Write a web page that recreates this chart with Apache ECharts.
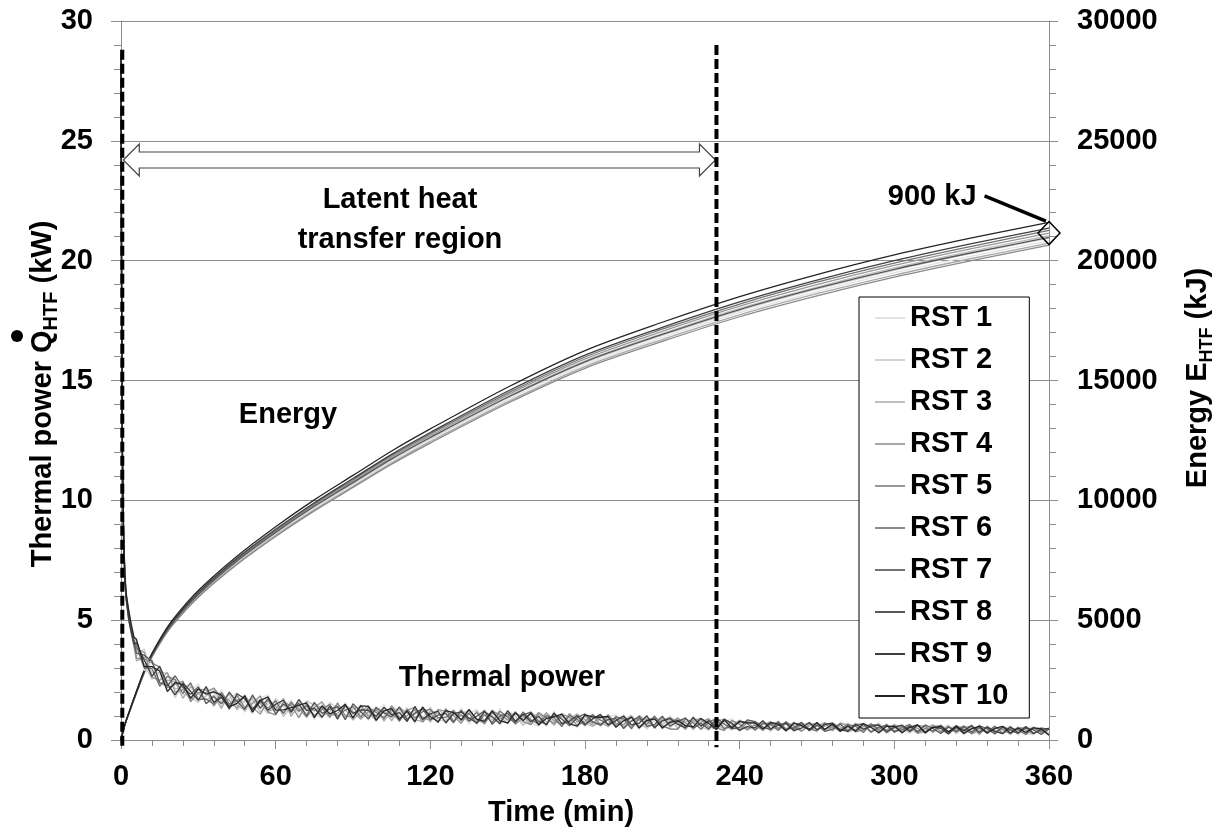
<!DOCTYPE html>
<html>
<head>
<meta charset="utf-8">
<script src="https://cdn.jsdelivr.net/npm/echarts@6.0.0/dist/echarts.min.js"></script>
<style>
  html, body { margin: 0; padding: 0; background: #fff; }
  #chart { width: 1220px; height: 834px; }
</style>
</head>
<body>
<div id="chart"></div>
<script>
// ---- data ----
const runNames = ['RST 1', 'RST 2', 'RST 3', 'RST 4', 'RST 5', 'RST 6', 'RST 7', 'RST 8', 'RST 9', 'RST 10'];
const runColors = ['#e2e2e2', '#d2d2d2', '#bebebe', '#a8a8a8', '#989898', '#8a8a8a', '#727272', '#585858', '#3e3e3e', '#242424'];

// time (min) of the energy samples
const energyTime = [0, 1, 2, 3, 5, 10, 15, 20, 30, 45, 60, 75, 90, 105, 120, 150, 180, 210, 240, 270, 300, 330, 360];

// energy E_HTF (kJ) per run
const energyRst1 = [0, 440, 790, 1090, 1680, 3060, 4050, 4830, 6010, 7390, 8570, 9650, 10640, 11620, 12510, 14180, 15660, 16790, 17830, 18710, 19500, 20190, 20830];
const energyRst2 = [0, 445, 795, 1090, 1690, 3070, 4060, 4850, 6040, 7430, 8610, 9700, 10690, 11680, 12570, 14260, 15740, 16880, 17920, 18810, 19600, 20300, 20940];
const energyRst3 = [0, 450, 800, 1100, 1700, 3090, 4080, 4880, 6070, 7460, 8660, 9750, 10750, 11740, 12640, 14330, 15820, 16960, 18010, 18900, 19700, 20400, 21040];
const energyRst4 = [0, 440, 785, 1080, 1670, 3040, 4020, 4800, 5980, 7350, 8530, 9600, 10580, 11560, 12450, 14110, 15580, 16710, 17740, 18620, 19400, 20090, 20730];
const energyRst5 = [0, 450, 800, 1100, 1700, 3100, 4100, 4900, 6100, 7500, 8700, 9800, 10800, 11800, 12700, 14400, 15900, 17050, 18100, 19000, 19800, 20500, 21150];
const energyRst6 = [0, 445, 790, 1080, 1670, 3040, 4010, 4790, 5960, 7320, 8490, 9560, 10540, 11510, 12390, 14050, 15510, 16630, 17660, 18530, 19310, 20000, 20650];
const energyRst7 = [0, 455, 805, 1105, 1710, 3120, 4120, 4920, 6130, 7540, 8740, 9850, 10860, 11860, 12770, 14470, 15980, 17140, 18190, 19100, 19900, 20600, 21260];
const energyRst8 = [0, 450, 800, 1095, 1695, 3090, 4090, 4880, 6070, 7470, 8660, 9750, 10740, 11730, 12620, 14300, 15780, 16920, 17960, 18850, 19640, 20330, 20970];
const energyRst9 = [0, 455, 810, 1110, 1720, 3130, 4140, 4950, 6160, 7580, 8790, 9900, 10910, 11920, 12830, 14550, 16060, 17220, 18280, 19190, 20000, 20710, 21360];
const energyRst10 = [0, 460, 820, 1125, 1740, 3170, 4190, 5010, 6240, 7670, 8900, 10020, 11040, 12060, 12980, 14720, 16250, 17430, 18500, 19420, 20240, 20950, 21600];

// time (min) of the thermal power samples
const powerTime = [0, 0.25, 0.5, 1, 1.5, 2, 3, 4, 5,
  6, 9, 12, 15, 18, 21, 24, 27, 30, 33,
  36, 39, 42, 45, 48, 51, 54, 57, 60, 63,
  66, 69, 72, 75, 78, 81, 84, 87, 90, 93,
  96, 99, 102, 105, 108, 111, 114, 117, 120, 123,
  126, 129, 132, 135, 138, 141, 144, 147, 150, 153,
  156, 159, 162, 165, 168, 171, 174, 177, 180, 183,
  186, 189, 192, 195, 198, 201, 204, 207, 210, 213,
  216, 219, 222, 225, 228, 231, 234, 237, 240, 243,
  246, 249, 252, 255, 258, 261, 264, 267, 270, 273,
  276, 279, 282, 285, 288, 291, 294, 297, 300, 303,
  306, 309, 312, 315, 318, 321, 324, 327, 330, 333,
  336, 339, 342, 345, 348, 351, 354, 357, 360];

// thermal power Q_HTF (kW) per run
const powerRst1 = [27.5, 17.6, 11.8, 8.4, 6.9, 5.9, 5.3, 4.5, 4.2,
  4.00, 2.90, 3.10, 2.70, 2.08, 2.60, 1.86, 2.05, 2.36, 1.55,
  1.63, 2.11, 1.26, 1.77, 1.56, 1.08, 1.74, 1.90, 1.17, 1.44,
  1.67, 1.05, 1.33, 0.85, 1.51, 1.37, 0.89, 1.57, 1.05, 1.34,
  0.82, 1.21, 1.49, 0.88, 1.02, 1.37, 0.68, 1.26, 1.05, 0.84,
  1.27, 0.86, 1.33, 0.66, 1.03, 1.14, 0.69, 1.32, 0.75, 0.94,
  0.69, 1.18, 0.91, 0.58, 1.21, 0.74, 1.07, 0.50, 0.93, 1.00,
  0.55, 0.94, 1.07, 0.56, 0.83, 0.44, 0.97, 0.76, 0.55, 1.02,
  0.57, 0.92, 0.39, 0.82, 0.85, 0.40, 0.71, 0.90, 0.41, 0.64,
  0.79, 0.42, 0.67, 0.80, 0.36, 0.61, 0.42, 0.75, 0.45, 0.68,
  0.35, 0.63, 0.70, 0.39, 0.53, 0.30, 0.72, 0.41, 0.60, 0.26,
  0.63, 0.37, 0.66, 0.28, 0.53, 0.63, 0.24, 0.50, 0.29, 0.65,
  0.26, 0.56, 0.35, 0.59, 0.20, 0.48, 0.55, 0.25, 0.42];
const powerRst2 = [28.2, 18.3, 12.2, 8.6, 6.7, 6.1, 5.1, 4.7, 4.0,
  3.50, 3.80, 2.80, 2.96, 2.42, 1.76, 2.34, 1.79, 1.56, 2.19,
  1.97, 1.39, 1.74, 1.97, 1.16, 1.64, 1.40, 1.10, 1.73, 1.42,
  1.07, 1.61, 1.35, 1.09, 0.91, 1.57, 1.31, 0.97, 1.43, 1.02,
  1.32, 0.87, 1.01, 1.40, 1.22, 0.77, 1.24, 0.90, 1.37, 0.80,
  0.83, 1.28, 0.73, 1.08, 1.27, 0.74, 1.03, 0.64, 1.15, 0.82,
  1.13, 0.72, 0.59, 1.06, 0.77, 1.12, 0.63, 0.98, 0.57, 0.92,
  0.99, 0.54, 0.81, 1.04, 0.59, 0.94, 0.45, 0.84, 0.95, 0.50,
  0.85, 0.48, 0.91, 0.54, 0.41, 0.84, 0.55, 0.42, 0.85, 0.48,
  0.47, 0.78, 0.41, 0.52, 0.78, 0.41, 0.72, 0.37, 0.65, 0.42,
  0.65, 0.33, 0.56, 0.69, 0.35, 0.64, 0.28, 0.59, 0.38, 0.64,
  0.33, 0.65, 0.26, 0.56, 0.37, 0.27, 0.62, 0.32, 0.59, 0.27,
  0.56, 0.28, 0.53, 0.23, 0.50, 0.28, 0.23, 0.53, 0.28];
const powerRst3 = [27.8, 17.9, 12.0, 8.7, 7.0, 6.2, 5.4, 4.8, 4.3,
  4.14, 3.14, 2.54, 2.84, 2.78, 2.12, 2.22, 2.31, 1.62, 1.83,
  2.09, 1.59, 1.90, 1.25, 1.64, 1.72, 1.16, 1.50, 1.57, 0.98,
  1.39, 1.17, 1.63, 1.45, 0.99, 1.17, 1.51, 0.89, 1.31, 1.38,
  1.04, 1.39, 0.77, 1.20, 1.30, 0.89, 1.08, 1.34, 0.73, 1.24,
  1.07, 0.70, 1.13, 1.20, 0.75, 1.26, 0.85, 0.76, 1.19, 1.02,
  0.61, 0.96, 1.11, 0.74, 1.05, 0.60, 0.87, 1.10, 0.69, 0.56,
  0.91, 1.02, 0.57, 0.84, 1.03, 0.62, 0.53, 0.96, 0.67, 0.86,
  0.49, 0.76, 0.87, 0.42, 0.77, 0.68, 0.43, 0.78, 0.69, 0.40,
  0.67, 0.74, 0.37, 0.68, 0.48, 0.75, 0.38, 0.57, 0.71, 0.38,
  0.59, 0.39, 0.46, 0.65, 0.69, 0.36, 0.56, 0.31, 0.66, 0.50,
  0.29, 0.57, 0.50, 0.64, 0.29, 0.51, 0.56, 0.24, 0.45, 0.53,
  0.44, 0.24, 0.57, 0.45, 0.26, 0.54, 0.41, 0.27, 0.50];
const powerRst4 = [28.5, 18.0, 12.4, 8.3, 6.6, 5.8, 5.0, 4.4, 3.9,
  3.30, 3.46, 3.34, 2.32, 2.50, 2.44, 1.74, 2.23, 1.94, 1.67,
  1.85, 1.31, 2.02, 1.45, 1.24, 1.80, 1.52, 1.20, 1.29, 1.74,
  0.99, 1.45, 1.07, 1.53, 1.31, 0.93, 1.43, 1.29, 0.83, 1.18,
  1.44, 0.91, 1.25, 0.80, 1.34, 1.13, 0.84, 0.78, 1.21, 1.12,
  0.75, 1.14, 1.01, 0.76, 1.19, 0.82, 1.25, 1.00, 0.67, 1.10,
  1.01, 0.64, 1.07, 0.94, 0.61, 1.00, 0.71, 1.06, 0.85, 0.60,
  0.71, 0.58, 1.01, 0.52, 0.95, 0.82, 0.89, 0.48, 0.91, 0.66,
  0.93, 0.56, 0.75, 0.86, 0.49, 0.80, 0.87, 0.50, 0.45, 0.80,
  0.43, 0.64, 0.77, 0.42, 0.68, 0.37, 0.62, 0.71, 0.41, 0.58,
  0.69, 0.55, 0.34, 0.45, 0.63, 0.54, 0.32, 0.67, 0.34, 0.56,
  0.51, 0.27, 0.36, 0.58, 0.61, 0.31, 0.46, 0.60, 0.25, 0.37,
  0.52, 0.42, 0.25, 0.51, 0.44, 0.22, 0.47, 0.43, 0.24];
const powerRst5 = [28.0, 18.5, 11.6, 8.2, 6.8, 6.0, 5.2, 4.6, 4.1,
  3.80, 3.66, 2.62, 2.48, 2.82, 2.00, 2.10, 1.67, 2.10, 2.11,
  1.41, 1.87, 1.66, 1.33, 1.88, 1.36, 1.08, 1.64, 1.41, 1.14,
  1.51, 1.33, 0.95, 1.37, 1.59, 1.01, 1.11, 1.41, 1.19, 0.86,
  1.20, 0.79, 1.33, 1.12, 0.82, 1.25, 1.36, 0.94, 0.81, 1.28,
  1.19, 1.02, 0.69, 1.24, 0.83, 0.70, 1.13, 0.88, 1.03, 0.66,
  0.93, 1.08, 0.71, 1.14, 0.81, 0.64, 1.11, 0.74, 1.01, 0.68,
  1.03, 0.82, 0.61, 0.96, 0.51, 1.02, 0.77, 0.56, 0.83, 0.94,
  0.73, 0.44, 0.83, 0.90, 0.57, 0.44, 0.83, 0.66, 0.37, 0.76,
  0.73, 0.48, 0.61, 0.74, 0.40, 0.67, 0.70, 0.41, 0.59, 0.72,
  0.39, 0.71, 0.60, 0.33, 0.57, 0.66, 0.38, 0.43, 0.62, 0.34,
  0.57, 0.49, 0.28, 0.62, 0.35, 0.59, 0.30, 0.54, 0.57, 0.23,
  0.58, 0.32, 0.49, 0.27, 0.54, 0.42, 0.25, 0.51, 0.44];
const powerRst6 = [27.2, 17.4, 12.6, 8.8, 6.9, 6.1, 5.1, 4.5, 4.0,
  3.42, 3.38, 3.22, 3.04, 2.18, 2.32, 2.46, 1.59, 1.98, 1.99,
  2.17, 1.75, 1.42, 1.85, 1.36, 1.52, 1.84, 1.16, 1.05, 1.58,
  1.43, 0.93, 1.51, 1.21, 1.39, 0.97, 1.55, 1.01, 0.95, 1.46,
  0.96, 1.27, 0.85, 1.44, 0.94, 1.01, 1.28, 0.74, 1.13, 0.72,
  1.31, 0.78, 1.05, 0.88, 1.15, 0.66, 1.17, 1.08, 0.83, 1.18,
  0.77, 0.64, 1.15, 0.94, 0.69, 1.08, 0.95, 0.62, 0.77, 1.08,
  0.59, 1.06, 0.69, 0.64, 0.99, 0.54, 0.85, 0.92, 0.47, 0.78,
  0.89, 0.72, 0.47, 0.74, 0.89, 0.52, 0.39, 0.82, 0.65, 0.44,
  0.63, 0.40, 0.71, 0.48, 0.74, 0.59, 0.36, 0.65, 0.69, 0.46,
  0.55, 0.45, 0.68, 0.35, 0.41, 0.62, 0.66, 0.29, 0.50, 0.60,
  0.41, 0.61, 0.56, 0.32, 0.63, 0.37, 0.50, 0.26, 0.51, 0.47,
  0.30, 0.52, 0.43, 0.25, 0.48, 0.52, 0.29, 0.41, 0.22];
const powerRst7 = [28.4, 18.8, 12.1, 8.5, 6.7, 5.9, 5.3, 4.7, 4.2,
  3.90, 3.02, 2.98, 2.24, 2.66, 2.52, 1.94, 2.39, 1.70, 1.71,
  1.49, 1.99, 1.50, 1.65, 1.76, 1.20, 1.60, 1.32, 1.65, 1.10,
  1.59, 1.21, 1.43, 1.01, 1.27, 1.49, 0.99, 1.25, 1.39, 0.94,
  1.36, 1.15, 0.93, 1.28, 0.78, 1.29, 0.92, 1.18, 1.29, 0.92,
  0.95, 1.22, 0.81, 1.12, 0.67, 1.06, 0.73, 1.20, 0.95, 0.70,
  1.17, 0.84, 0.67, 1.02, 0.93, 0.56, 1.03, 0.86, 0.61, 1.04,
  0.83, 0.66, 0.97, 0.88, 0.47, 0.90, 0.65, 1.00, 0.59, 0.46,
  0.45, 0.88, 0.71, 0.46, 0.77, 0.88, 0.47, 0.58, 0.81, 0.68,
  0.41, 0.70, 0.65, 0.40, 0.76, 0.45, 0.68, 0.47, 0.37, 0.70,
  0.61, 0.35, 0.64, 0.57, 0.31, 0.68, 0.44, 0.63, 0.32, 0.52,
  0.65, 0.31, 0.48, 0.38, 0.59, 0.27, 0.60, 0.44, 0.27, 0.51,
  0.34, 0.58, 0.27, 0.47, 0.42, 0.24, 0.53, 0.33, 0.48];
const powerRst8 = [27.9, 18.1, 11.9, 8.6, 6.8, 6.0, 5.2, 4.6, 4.1,
  3.62, 3.54, 3.30, 2.40, 2.26, 2.68, 2.18, 1.91, 2.22, 1.51,
  1.81, 1.51, 1.98, 1.61, 1.28, 1.88, 1.32, 1.72, 1.09, 1.50,
  1.23, 1.53, 0.99, 1.57, 1.11, 1.29, 1.39, 0.85, 1.51, 1.18,
  0.88, 1.35, 1.13, 0.96, 1.38, 0.85, 1.12, 1.30, 0.85, 1.04,
  1.11, 0.74, 1.25, 0.80, 0.99, 1.22, 0.65, 1.00, 1.11, 0.74,
  1.05, 1.16, 0.79, 0.66, 1.09, 0.88, 0.59, 0.94, 1.09, 0.76,
  0.63, 0.86, 0.89, 0.48, 0.79, 0.98, 0.57, 0.64, 0.99, 0.58,
  0.77, 0.92, 0.51, 0.70, 0.45, 0.92, 0.67, 0.46, 0.53, 0.84,
  0.77, 0.54, 0.43, 0.76, 0.44, 0.51, 0.74, 0.39, 0.63, 0.36,
  0.45, 0.67, 0.38, 0.61, 0.67, 0.32, 0.54, 0.61, 0.36, 0.42,
  0.59, 0.35, 0.62, 0.48, 0.27, 0.55, 0.36, 0.56, 0.33, 0.59,
  0.48, 0.26, 0.55, 0.41, 0.28, 0.50, 0.43, 0.23, 0.46];
const powerRst9 = [28.6, 18.4, 12.3, 8.4, 6.6, 5.9, 5.0, 4.5, 4.0,
  4.06, 3.34, 2.66, 3.08, 2.34, 1.88, 2.38, 2.03, 1.66, 2.23,
  1.57, 1.79, 1.30, 1.93, 1.72, 1.28, 1.68, 1.24, 1.49, 1.66,
  1.15, 1.69, 1.23, 1.33, 0.95, 1.41, 0.87, 1.45, 1.11, 1.26,
  1.24, 0.99, 1.37, 1.04, 1.14, 0.77, 1.40, 0.86, 1.09, 1.20,
  0.71, 1.10, 1.17, 0.92, 0.71, 1.18, 0.97, 0.68, 1.23, 0.78,
  1.09, 0.76, 0.99, 0.62, 1.13, 0.68, 0.79, 1.02, 0.65, 0.88,
  1.07, 0.62, 0.81, 1.00, 0.63, 0.70, 1.01, 0.52, 0.79, 0.90,
  0.65, 0.52, 0.95, 0.58, 0.81, 0.48, 0.87, 0.70, 0.41, 0.56,
  0.51, 0.80, 0.47, 0.62, 0.70, 0.39, 0.50, 0.73, 0.43, 0.64,
  0.71, 0.43, 0.36, 0.67, 0.45, 0.58, 0.62, 0.35, 0.54, 0.62,
  0.35, 0.63, 0.32, 0.54, 0.49, 0.25, 0.54, 0.38, 0.61, 0.31,
  0.54, 0.36, 0.27, 0.55, 0.30, 0.56, 0.27, 0.45, 0.48];
const powerRst10 = [28.8, 18.6, 12.5, 8.7, 6.9, 6.1, 5.4, 4.8, 4.3,
  4.20, 3.06, 3.06, 2.88, 2.02, 2.40, 2.30, 1.75, 2.14, 1.91,
  2.01, 1.87, 1.38, 1.53, 1.84, 1.16, 1.64, 1.80, 1.25, 1.26,
  1.35, 1.45, 1.55, 0.93, 1.43, 1.09, 1.23, 1.49, 0.91, 1.42,
  1.40, 0.83, 1.21, 1.32, 0.86, 1.21, 0.76, 1.38, 0.97, 0.76,
  1.23, 1.14, 0.85, 1.28, 0.87, 0.78, 1.21, 0.80, 0.71, 1.14,
  0.81, 1.12, 0.63, 0.90, 0.97, 1.08, 0.67, 0.58, 1.05, 0.96,
  0.95, 0.98, 0.53, 0.80, 0.95, 0.50, 0.81, 0.88, 0.51, 0.74,
  0.81, 0.60, 0.55, 0.90, 0.69, 0.44, 0.83, 0.50, 0.77, 0.72,
  0.71, 0.46, 0.73, 0.66, 0.38, 0.71, 0.60, 0.43, 0.73, 0.44,
  0.67, 0.37, 0.58, 0.37, 0.69, 0.52, 0.30, 0.57, 0.58, 0.30,
  0.53, 0.63, 0.30, 0.52, 0.57, 0.33, 0.58, 0.28, 0.47, 0.57,
  0.28, 0.48, 0.57, 0.29, 0.50, 0.32, 0.51, 0.47, 0.20];

const energyRuns = [energyRst1, energyRst2, energyRst3, energyRst4, energyRst5, energyRst6, energyRst7, energyRst8, energyRst9, energyRst10];
const powerRuns = [powerRst1, powerRst2, powerRst3, powerRst4, powerRst5, powerRst6, powerRst7, powerRst8, powerRst9, powerRst10];

// latent heat region bounds (min) and annotations
const regionBounds = [0.5, 231];
const regionLineTop = [28.8, 29.0];   // kW
const regionLineBottom = -0.3;        // kW
const regionArrowLevel = 24.2;        // kW
const spreadNote = { label: [335, 22700], tip: [358.8, 21650], mark: [360, 21150] }; // min, kJ

const FONT = 'Liberation Sans, Arial, sans-serif';
const FS = 29;
const GRID_GRAY = '#8c8c8c';

const chart = echarts.init(document.getElementById('chart'), null, { renderer: 'canvas' });

const series = [];

runNames.forEach((name, i) => {
  series.push({
    name: name,
    type: 'line',
    yAxisIndex: 1,
    data: energyTime.map((t, k) => [t, energyRuns[i][k]]),
    symbol: 'none',
    smooth: 0.3,
    lineStyle: { color: runColors[i], width: 1.3 },
    itemStyle: { color: runColors[i] },
    z: 2
  });
});

runNames.forEach((name, i) => {
  series.push({
    name: name,
    type: 'line',
    yAxisIndex: 0,
    data: powerTime.map((t, k) => [t, powerRuns[i][k]]),
    symbol: 'none',
    lineStyle: { color: runColors[i], width: 1.3 },
    itemStyle: { color: runColors[i] },
    z: 2
  });
});

// vertical dashed bounds of the latent region
regionBounds.forEach((t, i) => {
  series.push({
    type: 'line',
    yAxisIndex: 0,
    data: [[t, regionLineTop[i]], [t, regionLineBottom]],
    symbol: 'none',
    clip: false,
    silent: true,
    lineStyle: { color: '#000', width: 4, type: [10, 4] },
    z: 5
  });
});

// hollow double arrow
series.push({
  type: 'custom',
  yAxisIndex: 0,
  clip: false,
  silent: true,
  data: [[regionBounds[0], regionBounds[1], regionArrowLevel]],
  encode: { x: [0, 1], y: 2 },
  renderItem: function (params, api) {
    const a = api.coord([api.value(0), api.value(2)]);
    const b = api.coord([api.value(1), api.value(2)]);
    const hl = 17, hh = 16, sh = 8;
    const y = a[1];
    return {
      type: 'polygon',
      shape: {
        points: [
          [a[0] + 1, y], [a[0] + hl, y - hh], [a[0] + hl, y - sh],
          [b[0] - hl, y - sh], [b[0] - hl, y - hh], [b[0] - 1, y],
          [b[0] - hl, y + hh], [b[0] - hl, y + sh],
          [a[0] + hl, y + sh], [a[0] + hl, y + hh]
        ]
      },
      style: { fill: '#fff', stroke: '#444', lineWidth: 1.2 }
    };
  },
  z: 4
});

// 900 kJ spread marker
series.push({
  type: 'custom',
  yAxisIndex: 1,
  clip: false,
  silent: true,
  data: [[spreadNote.label[0], spreadNote.label[1], spreadNote.tip[0], spreadNote.tip[1], spreadNote.mark[0], spreadNote.mark[1]]],
  encode: { x: [0, 2, 4], y: [1, 3, 5] },
  renderItem: function (params, api) {
    const p0 = api.coord([api.value(0), api.value(1)]);
    const p1 = api.coord([api.value(2), api.value(3)]);
    const m = api.coord([api.value(4), api.value(5)]);
    return {
      type: 'group',
      children: [
        { type: 'line', shape: { x1: p0[0], y1: p0[1], x2: p1[0], y2: p1[1] }, style: { stroke: '#000', lineWidth: 3.5 } },
        { type: 'polygon', shape: { points: [[m[0], m[1] - 11.5], [m[0] + 11, m[1]], [m[0], m[1] + 11.5], [m[0] - 11, m[1]]] }, style: { fill: 'none', stroke: '#000', lineWidth: 1.5 } },
        { type: 'text', x: p0[0] - 8, y: p0[1] + 1, style: { text: '900 kJ', font: 'bold ' + FS + 'px ' + FONT, fill: '#000', align: 'right', verticalAlign: 'middle', textAlign: 'right', textVerticalAlign: 'middle' } }
      ]
    };
  },
  z: 6
});

const labelStyle = { color: '#000', fontSize: FS, fontWeight: 'bold', fontFamily: FONT };
const lineGray = { color: GRID_GRAY, width: 1 };
const plainNumber = function (v) { return String(v); };

const powerTitleRich = {
  a: { fontSize: FS, fontWeight: 'bold', fontFamily: FONT, fill: '#000', color: '#000', lineHeight: 34, verticalAlign: 'bottom' },
  s: { fontSize: 20, fontWeight: 'bold', fontFamily: FONT, fill: '#000', color: '#000', lineHeight: 34, verticalAlign: 'bottom', padding: [0, 0, -4, 0] }
};
const energyTitleRich = {
  a: { fontSize: FS, fontWeight: 'bold', fontFamily: FONT, fill: '#000', color: '#000', lineHeight: 34, verticalAlign: 'bottom' },
  s: { fontSize: 18, fontWeight: 'bold', fontFamily: FONT, fill: '#000', color: '#000', lineHeight: 34, verticalAlign: 'bottom', padding: [0, 0, -4, 0] }
};

const option = {
  animation: false,
  backgroundColor: '#fff',
  grid: { left: 121, right: 171, top: 21, bottom: 94, containLabel: false, outerBoundsMode: 'none' },
  xAxis: {
    type: 'value', min: 0, max: 360, interval: 60,
    axisLine: { show: true, onZero: false, lineStyle: lineGray },
    axisTick: { show: true, length: 9, lineStyle: lineGray },
    minorTick: { show: true, splitNumber: 5, length: 6, lineStyle: lineGray },
    splitLine: { show: false },
    axisLabel: Object.assign({ margin: 22, formatter: plainNumber }, labelStyle)
  },
  yAxis: [
    {
      type: 'value', min: 0, max: 30, interval: 5, position: 'left',
      axisLine: { show: true, lineStyle: lineGray },
      axisTick: { show: true, length: 10, lineStyle: lineGray },
      minorTick: { show: true, splitNumber: 5, length: 7, lineStyle: lineGray },
      splitLine: { show: true, lineStyle: lineGray },
      axisLabel: Object.assign({ margin: 28, formatter: plainNumber }, labelStyle)
    },
    {
      type: 'value', min: 0, max: 30000, interval: 5000, position: 'right',
      axisLine: { show: true, lineStyle: lineGray },
      axisTick: { show: true, length: 9, lineStyle: lineGray },
      minorTick: { show: true, splitNumber: 5, length: 7, lineStyle: lineGray },
      splitLine: { show: false },
      axisLabel: Object.assign({ margin: 28, formatter: plainNumber }, labelStyle)
    }
  ],
  legend: {
    data: runNames,
    orient: 'vertical',
    left: 859, top: 297,
    padding: [5, 21, 6, 16],
    icon: 'rect',
    itemWidth: 30, itemHeight: 2, itemGap: 10,
    backgroundColor: '#fff',
    borderColor: '#000', borderWidth: 1, borderRadius: 0,
    selectedMode: false,
    textStyle: { color: '#000', fontSize: FS, fontWeight: 'bold', fontFamily: FONT, lineHeight: 32 },
    z: 8
  },
  graphic: [
    { type: 'text', x: 400, y: 220, style: { text: 'Latent heat\ntransfer region', font: 'bold ' + FS + 'px ' + FONT, lineHeight: 40, fill: '#000', align: 'center', verticalAlign: 'middle', textAlign: 'center', textVerticalAlign: 'middle' }, z: 10 },
    { type: 'text', x: 288, y: 415, style: { text: 'Energy', font: 'bold ' + FS + 'px ' + FONT, fill: '#000', align: 'center', verticalAlign: 'middle', textAlign: 'center', textVerticalAlign: 'middle' }, z: 10 },
    { type: 'text', x: 502, y: 678, style: { text: 'Thermal power', font: 'bold ' + FS + 'px ' + FONT, fill: '#000', align: 'center', verticalAlign: 'middle', textAlign: 'center', textVerticalAlign: 'middle' }, z: 10 },
    { type: 'text', x: 561, y: 813, style: { text: 'Time (min)', font: 'bold ' + FS + 'px ' + FONT, fill: '#000', align: 'center', verticalAlign: 'middle', textAlign: 'center', textVerticalAlign: 'middle' }, z: 10 },
    {
      type: 'text', x: 40, y: 394, rotation: Math.PI / 2,
      style: { text: '{a|Thermal power Q}{s|HTF}{a| (kW)}', rich: powerTitleRich, align: 'center', verticalAlign: 'middle', textAlign: 'center', textVerticalAlign: 'middle' },
      z: 10
    },
    { type: 'circle', shape: { cx: 17, cy: 336, r: 6 }, style: { fill: '#000' }, z: 10 },
    {
      type: 'text', x: 1195, y: 378, rotation: Math.PI / 2,
      style: { text: '{a|Energy E}{s|HTF}{a| (kJ)}', rich: energyTitleRich, align: 'center', verticalAlign: 'middle', textAlign: 'center', textVerticalAlign: 'middle' },
      z: 10
    }
  ],
  series: series
};

chart.setOption(option);
</script>
</body>
</html>
